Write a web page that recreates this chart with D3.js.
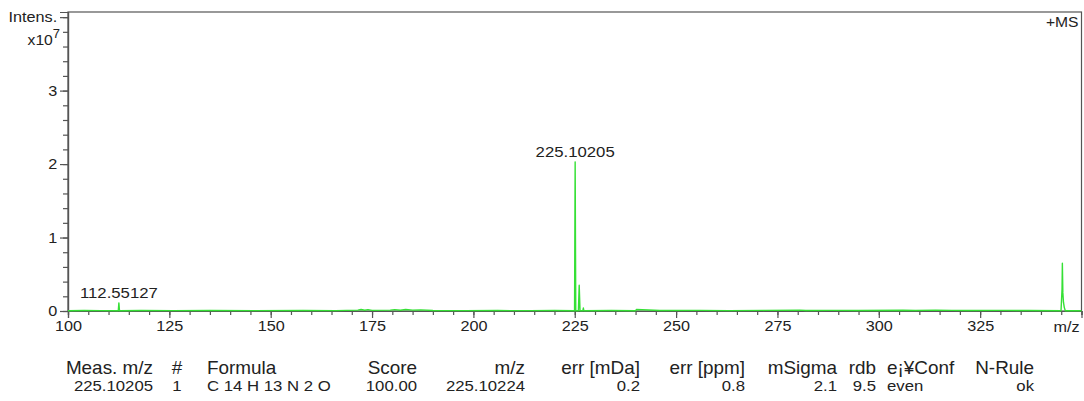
<!DOCTYPE html>
<html>
<head>
<meta charset="utf-8">
<script src="https://cdn.jsdelivr.net/npm/d3@7"></script>
<style>
  html, body { margin: 0; padding: 0; background: #fff; }
  svg { display: block; font-family: Arial, "Liberation Sans", sans-serif; }
</style>
</head>
<body>
<svg id="chart" width="1084" height="401"></svg>
<script>
// Profile spectrum (m/z, intensity in units of 1e7)
const profileMz = [
  100, 104, 108, 112.40, 112.55, 112.70, 118, 126, 135, 146, 158, 166,
  171.5, 172.3, 173.2, 174.0, 175.0, 179.5, 180.6, 182.0, 183.3, 185.0, 187.0, 190,
  198, 206, 214, 220, 224.95, 225.10, 225.25, 225.9, 226.10, 226.30, 227.0, 227.12, 227.25,
  234, 240.0, 240.2, 246, 256, 263, 272, 280.5, 282, 288, 295, 306, 309, 314, 318, 322,
  330, 337, 344.95, 345.20, 345.28, 345.40, 345.55, 345.75, 346.0, 350
];
const profileInt = [
  0.004, 0.006, 0.005, 0.004, 0.11, 0.004, 0.006, 0.005, 0.006, 0.005, 0.006, 0.005,
  0.012, 0.02, 0.01, 0.018, 0.008, 0.012, 0.018, 0.01, 0.02, 0.012, 0.016, 0.006,
  0.005, 0.006, 0.005, 0.006, 0.004, 2.03, 0.004, 0.004, 0.35, 0.004, 0.004, 0.04, 0.004,
  0.006, 0.004, 0.02, 0.006, 0.008, 0.005, 0.008, 0.012, 0.006, 0.008, 0.006, 0.01, 0.006, 0.012, 0.008, 0.006,
  0.008, 0.006, 0.004, 0.3, 0.65, 0.25, 0.12, 0.05, 0.004, 0.004
];

// Labelled peaks
const peakLabels = ["112.55127", "225.10205"];
const peakMz = [112.55127, 225.10205];
const peakInt = [0.11, 2.03];

// Axis ticks
const xMajorTicks = [100, 125, 150, 175, 200, 225, 250, 275, 300, 325];
const xMinorTicks = d3.range(100, 350.1, 5);
const yMajorTicks = [0, 1, 2, 3, 4];
const yTickLabels = ["0", "1", "2", "3", "Intens."];
const yMinorTicks = d3.range(0, 4.01, 0.2);

// Formula table
const tableHeaders = ["Meas. m/z", "#", "Formula", "Score", "m/z", "err [mDa]", "err [ppm]", "mSigma", "rdb", "e¡¥Conf", "N-Rule"];
const tableValues  = ["225.10205", "1", "C 14 H 13 N 2 O", "100.00", "225.10224", "0.2", "0.8", "2.1", "9.5", "even", "ok"];

const svg = d3.select("#chart");
const plotLeft = 68, plotRight = 1081.5, plotTop = 12, plotBottom = 311;
const textColor = "#222";
const axisColor = "#555";
const sx = 1.08; // horizontal text stretch

const x = d3.scaleLinear().domain([100, 350]).range([plotLeft, plotRight]);
const y = d3.scaleLinear().domain([0, 4.07]).range([plotBottom, plotTop]);

function addText(px, py, str, size, anchor) {
  return svg.append("text")
    .attr("transform", `translate(${px},${py}) scale(${sx},1)`)
    .attr("text-anchor", anchor)
    .attr("fill", textColor)
    .style("font-size", size + "px")
    .text(str);
}

// Frame
svg.append("rect")
  .attr("x", plotLeft).attr("y", plotTop)
  .attr("width", plotRight - plotLeft).attr("height", plotBottom - plotTop)
  .attr("fill", "none").attr("stroke", axisColor).attr("stroke-width", 1.2);

function styleAxis(g) {
  g.select(".domain").attr("stroke", axisColor).attr("stroke-width", 1.2);
  g.selectAll(".tick line").attr("stroke", axisColor).attr("stroke-width", 1.2);
  g.selectAll(".tick text")
    .attr("fill", textColor)
    .attr("transform", `scale(${sx},1)`)
    .style("font-size", "15px");
}

// X axis: minor then major
svg.append("g").attr("transform", `translate(0,${plotBottom})`)
  .call(d3.axisBottom(x).tickValues(xMinorTicks).tickSize(4).tickFormat(""))
  .call(styleAxis);
svg.append("g").attr("transform", `translate(0,${plotBottom})`)
  .call(d3.axisBottom(x).tickValues(xMajorTicks).tickSize(7).tickPadding(2).tickFormat(d3.format("d")))
  .call(styleAxis);

// Y axis: minor then major
svg.append("g").attr("transform", `translate(${plotLeft},0)`)
  .call(d3.axisLeft(y).tickValues(yMinorTicks).tickSize(5).tickFormat(""))
  .call(styleAxis);
svg.append("g").attr("transform", `translate(${plotLeft},0)`)
  .call(d3.axisLeft(y).tickValues(yMajorTicks).tickSize(8).tickPadding(2)
    .tickFormat((d, i) => yTickLabels[i]))
  .call(styleAxis);

// Exponent under the axis title
const expLabel = addText(plotLeft - 8, 45, null, 14.5, "end");
expLabel.append("tspan").text("x10");
expLabel.append("tspan").attr("dy", -7).style("font-size", "12px").text("7");

addText(plotRight - 3, plotTop + 15, "+MS", 14.5, "end");
addText(plotRight - 2, plotBottom + 21, "m/z", 15, "end");

// Spectrum trace
const points = profileMz.map((m, i) => [m, profileInt[i]]);
svg.append("path")
  .datum(points)
  .attr("fill", "none")
  .attr("stroke", "#35e035")
  .attr("stroke-width", 1.4)
  .attr("stroke-linejoin", "round")
  .attr("d", d3.line().x(d => x(d[0])).y(d => y(d[1])));

// Peak annotations
peakMz.forEach((m, i) => {
  addText(x(m), y(peakInt[i]) - 5, peakLabels[i], 15.5, "middle");
});

// Formula table: column anchor positions and alignment
const colX =     [153, 177, 207, 417, 525, 640, 745, 837, 876, 887, 1034];
const colAlign = ["end", "middle", "start", "end", "end", "end", "end", "end", "end", "start", "end"];

tableHeaders.forEach((h, i) => addText(colX[i], 374, h, 17.5, colAlign[i]));
tableValues.forEach((v, i) => addText(colX[i], 391, v, 15.5, colAlign[i]));
</script>
</body>
</html>
